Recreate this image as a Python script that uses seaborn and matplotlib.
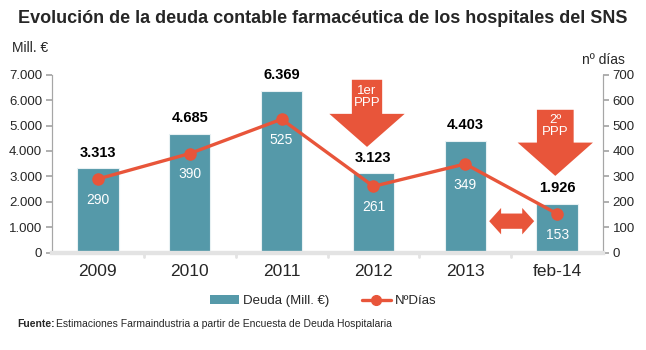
import numpy as np
import pandas as pd
import matplotlib.pyplot as plt
import seaborn as sns
from matplotlib.patches import Polygon, Patch
from matplotlib.lines import Line2D

# data
periods = ["2009", "2010", "2011", "2012", "2013", "feb-14"]
deuda = [3313, 4685, 6369, 3123, 4403, 1926]
dias = [290, 390, 525, 261, 349, 153]
left_ticks = [0, 1000, 2000, 3000, 4000, 5000, 6000, 7000]
right_ticks = [0, 100, 200, 300, 400, 500, 600, 700]

BAR = "#5599A9"
RED = "#E8553A"
GREY = "#A6A6A6"


def es_thousands(v):
    return f"{v:,.0f}".replace(",", ".")


def down_arrow(ax, xc, top, head, tip, shaft_hw, head_hw, text):
    pts = [
        (xc - shaft_hw, top), (xc + shaft_hw, top), (xc + shaft_hw, head),
        (xc + head_hw, head), (xc, tip), (xc - head_hw, head), (xc - shaft_hw, head),
    ]
    ax.add_patch(Polygon(pts, closed=True, facecolor=RED, edgecolor="none", zorder=6))
    ax.text(xc, (top + head) / 2, text, color="white", ha="center", va="center",
            fontsize=9.5, linespacing=1.05, zorder=7)


def main():
    sns.set_theme(style="white")
    plt.rcParams["font.family"] = ["Liberation Sans", "DejaVu Sans"]

    df = pd.DataFrame({"periodo": periods, "deuda": deuda, "dias": dias})

    fig = plt.figure(figsize=(6.46, 3.5), dpi=100)
    ax = fig.add_axes([0.0805, 0.278, 0.853, 0.5086])

    sns.barplot(data=df, x="periodo", y="deuda", color=BAR, width=0.45,
                saturation=1, edgecolor="#E8F1F3", linewidth=0.8, ax=ax, zorder=2)
    ax.set_xlim(-0.5, len(periods) - 0.5)
    ax.set_ylim(0, 7000)
    ax.set_yticks(left_ticks)
    ax.set_yticklabels([es_thousands(v) for v in left_ticks], fontsize=9.5)
    ax.set_xlabel("")
    ax.set_ylabel("")
    ax.tick_params(axis="x", labelsize=12.5, length=0, pad=8)
    ax.tick_params(axis="y", length=4, color=GREY, left=True, pad=3)

    ax2 = ax.twinx()
    ax2.set_ylim(0, 700)
    ax2.set_yticks(right_ticks)
    ax2.tick_params(axis="y", labelsize=9.5, length=4, color=GREY, right=True, pad=3)
    x = np.arange(len(periods))
    ax2.plot(x, df["dias"], color=RED, lw=2.4, marker="o", ms=8, zorder=5)

    for a in (ax, ax2):
        a.spines["top"].set_visible(False)
        a.spines["left"].set_color(GREY)
        a.spines["right"].set_color(GREY)
        a.spines["left"].set_linewidth(0.8)
        a.spines["right"].set_linewidth(0.8)
        a.spines["bottom"].set_color("#E3E3E3")
        a.spines["bottom"].set_linewidth(3)
    ax2.set_zorder(ax.get_zorder() + 1)
    ax2.patch.set_visible(False)

    # category separators on baseline
    for xi in np.arange(0.5, len(periods) - 1, 1):
        ax.plot([xi, xi], [-60, -180], color="#E3E3E3", lw=2, clip_on=False)

    # value labels
    for i, (d, n) in enumerate(zip(deuda, dias)):
        ax.annotate(es_thousands(d), (i, d), xytext=(0, 6), textcoords="offset points",
                    ha="center", va="bottom", fontsize=10.5, fontweight="bold", color="black")
        ax2.annotate(str(n), (i, n), xytext=(0, -15), textcoords="offset points",
                     ha="center", va="center", fontsize=10, color="white", zorder=6)

    # PPP arrows
    down_arrow(ax2, 2.93, 680, 546, 416, 0.165, 0.41, "1er\nPPP")
    down_arrow(ax2, 4.98, 562, 433, 302, 0.2, 0.41, "2º\nPPP")

    # double-headed arrow
    x0, x1, yc = 4.26, 4.75, 124
    hl = 0.13
    pts = [(x0, yc), (x0 + hl, yc + 52), (x0 + hl, yc + 30), (x1 - hl, yc + 30),
           (x1 - hl, yc + 52), (x1, yc), (x1 - hl, yc - 52), (x1 - hl, yc - 30),
           (x0 + hl, yc - 30), (x0 + hl, yc - 52)]
    ax2.add_patch(Polygon(pts, closed=True, facecolor=RED, edgecolor="none", zorder=6))

    fig.text(0.5, 0.948, "Evolución de la deuda contable farmacéutica de los hospitales del SNS",
             ha="center", va="center", fontsize=13, fontweight="bold")
    fig.text(0.019, 0.862, "Mill. €", ha="left", va="center", fontsize=10)
    fig.text(0.968, 0.828, "nº días", ha="right", va="center", fontsize=10)

    handles = [Patch(facecolor=BAR, edgecolor="none", label="Deuda (Mill. €)"),
               Line2D([0], [0], color=RED, lw=2.4, marker="o", ms=7, label="NºDías")]
    fig.legend(handles=handles, loc="center", bbox_to_anchor=(0.5, 0.14), ncol=2,
               frameon=False, fontsize=9.5, handlelength=2.2, handletextpad=0.3,
               columnspacing=2.5)

    fig.text(0.027, 0.075, "Fuente:", ha="left", va="center", fontsize=7.5, fontweight="bold")
    fig.text(0.087, 0.075, "Estimaciones Farmaindustria a partir de Encuesta de Deuda Hospitalaria",
             ha="left", va="center", fontsize=7.5)

    fig.savefig("out.png", dpi=100)
    plt.close(fig)


if __name__ == "__main__":
    main()
